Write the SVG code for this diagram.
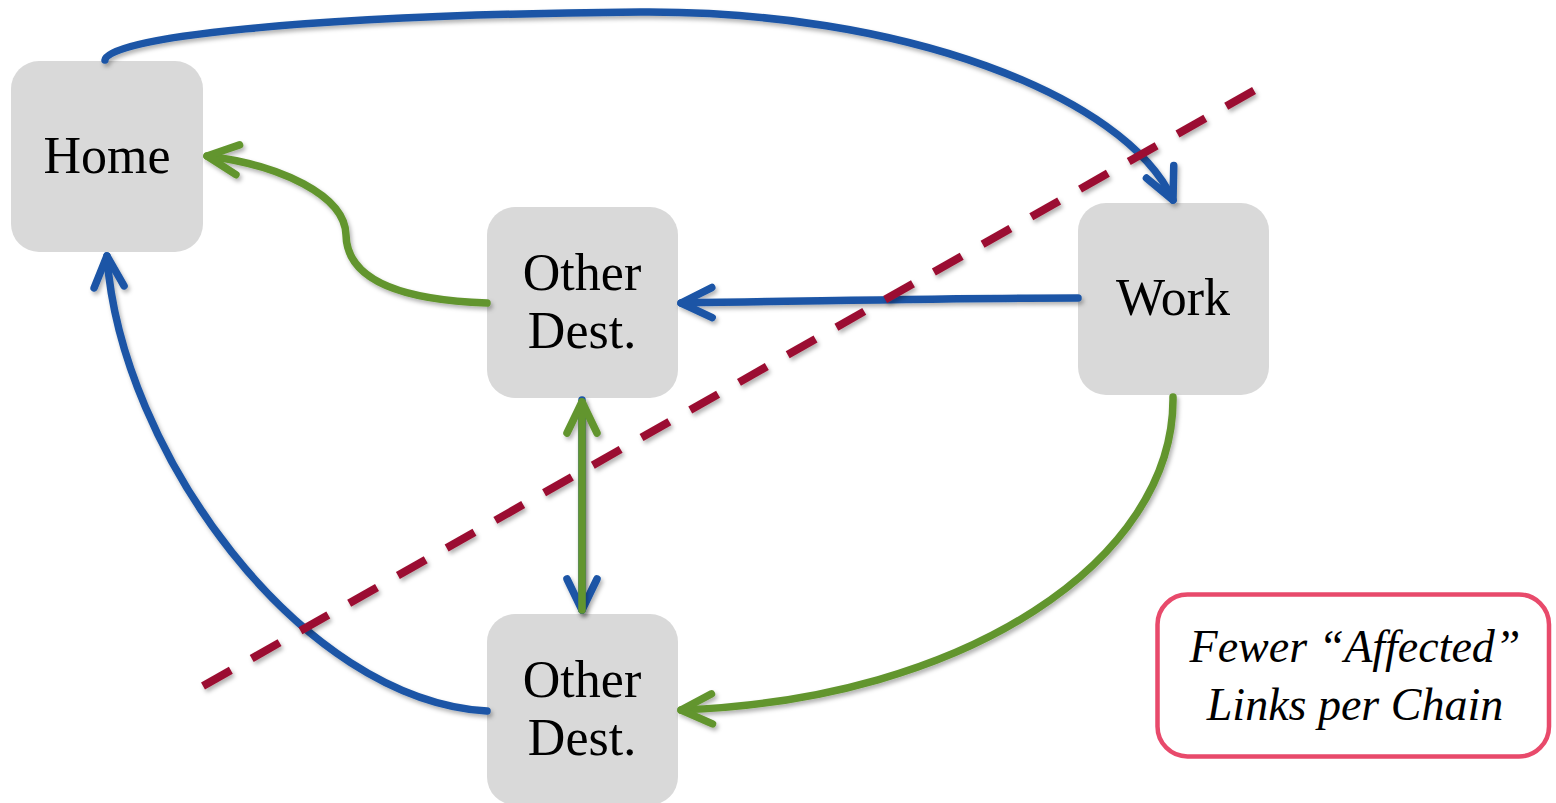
<svg xmlns="http://www.w3.org/2000/svg" width="1556" height="803" viewBox="0 0 1556 803">
  <style>
    .node rect { fill: #D9D9D9; }
    .node text { font-family: "Liberation Serif", "Times New Roman", serif; font-size: 52px; fill: #000; text-anchor: middle; }
    .link { fill: none; stroke-width: 7.5; stroke-linecap: round; stroke-linejoin: round; filter: url(#shadow); }
    .blue { stroke: #1B55A6; }
    .green { stroke: #62952F; }
    .cut { fill: none; stroke: #9B0E30; stroke-width: 8; stroke-dasharray: 32 24; filter: url(#shadow); }
    .note rect { fill: #FFFFFF; stroke: #E84A6B; stroke-width: 4.5; }
    .note text { font-family: "Liberation Serif", "Times New Roman", serif; font-style: italic; font-size: 46px; fill: #000; text-anchor: middle; }
  </style>
  <defs>
    <filter id="shadow" filterUnits="userSpaceOnUse" x="0" y="0" width="1556" height="803">
      <feDropShadow dx="2" dy="3" stdDeviation="2" flood-color="#000" flood-opacity="0.3"/>
    </filter>
    <marker id="arrowBlue" markerUnits="userSpaceOnUse" markerWidth="80" markerHeight="80" refX="0" refY="0" orient="auto" overflow="visible">
      <path d="M-31,-15 L0,0 L-31,15" fill="none" stroke="#1B55A6" stroke-width="7.5" stroke-linecap="round" stroke-linejoin="round"/>
    </marker>
    <marker id="arrowGreen" markerUnits="userSpaceOnUse" markerWidth="80" markerHeight="80" refX="0" refY="0" orient="auto" overflow="visible">
      <path d="M-31,-15 L0,0 L-31,15" fill="none" stroke="#62952F" stroke-width="7.5" stroke-linecap="round" stroke-linejoin="round"/>
    </marker>
  </defs>

  <rect width="1556" height="803" fill="#FFFFFF"/>

  <!-- places -->
  <g id="home" class="node">
    <rect x="11" y="61" width="192" height="191" rx="28"/>
    <text x="107" y="173">Home</text>
  </g>
  <g id="other-dest-upper" class="node">
    <rect x="487" y="207" width="191" height="191" rx="28"/>
    <text x="582" y="290">Other</text>
    <text x="582" y="348">Dest.</text>
  </g>
  <g id="work" class="node">
    <rect x="1078" y="203" width="191" height="192" rx="28"/>
    <text x="1173" y="315">Work</text>
  </g>
  <g id="other-dest-lower" class="node">
    <rect x="487" y="614" width="191" height="191" rx="28"/>
    <text x="582" y="697">Other</text>
    <text x="582" y="755">Dest.</text>
  </g>

  <!-- trips between places -->
  <g id="connectors">
    <path class="link blue" d="M105,60 C107,38 300,15 640,12 C900,10 1125,95 1173,200" marker-end="url(#arrowBlue)"/>
    <path class="link green" d="M487,303 C400,300 347,280 346,235 C345,195 280,165 207,156" marker-end="url(#arrowGreen)"/>
    <path class="link blue" d="M1078,298 C950,298 880,300 681,303" marker-end="url(#arrowBlue)"/>
    <path class="link blue" d="M582,400 L582,610" marker-end="url(#arrowBlue)"/>
    <path class="link green" d="M582,610 L582,402" marker-end="url(#arrowGreen)"/>
    <path class="link green" d="M1173,397 C1175,560 965,700 681,710" marker-end="url(#arrowGreen)"/>
    <path class="link blue" d="M487,711 C300,700 120,450 107,256" marker-end="url(#arrowBlue)"/>
  </g>

  <!-- dividing cut line -->
  <g id="cut-line">
    <line class="cut" x1="203" y1="686" x2="1255" y2="90"/>
  </g>

  <!-- callout -->
  <g id="note" class="note">
    <rect x="1157.5" y="594.5" width="391.5" height="162" rx="30"/>
    <text x="1355" y="662">Fewer “Affected”</text>
    <text x="1355" y="720">Links per Chain</text>
  </g>
</svg>
